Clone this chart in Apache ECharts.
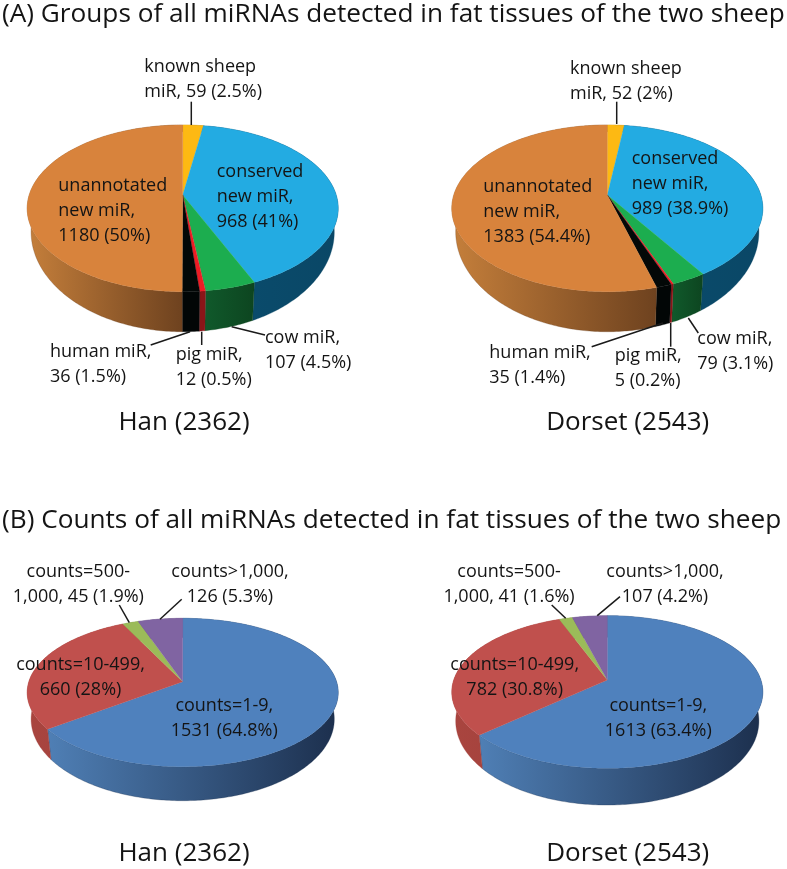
<!DOCTYPE html>
<html>
<head>
<meta charset="utf-8">
<style>html,body{margin:0;padding:0;background:#fff}#c{width:787px;height:869px}</style>
<script src="https://cdn.jsdelivr.net/npm/echarts@6/dist/echarts.min.js"></script>
</head>
<body>
<div id="c"></div>
<script>
// ---- data ----
const groupNames = ['known sheep\nmiR', 'conserved\nnew miR', 'cow miR', 'pig miR', 'human miR', 'unannotated\nnew miR'];
const groupSeps = [', ', ',\n', ',\n', ',\n', ',\n', ',\n'];
const hanGroups = [59, 968, 107, 12, 36, 1180];
const hanGroupPct = ['2.5%', '41%', '4.5%', '0.5%', '1.5%', '50%'];
const dorsetGroups = [52, 989, 79, 5, 35, 1383];
const dorsetGroupPct = ['2%', '38.9%', '3.1%', '0.2%', '1.4%', '54.4%'];

const countNames = ['counts=1-9', 'counts=10-499', 'counts=500-\n1,000', 'counts>1,000'];
const countSeps = [',\n', ',\n', ', ', ',\n'];
const hanCounts = [1531, 660, 45, 126];
const hanCountPct = ['64.8%', '28%', '1.9%', '5.3%'];
const dorsetCounts = [1613, 782, 41, 107];
const dorsetCountPct = ['63.4%', '30.8%', '1.6%', '4.2%'];

const headingA = '(A) Groups of all miRNAs detected in fat tissues of the two sheep';
const headingB = '(B) Counts of all miRNAs detected in fat tissues of the two sheep';
const captions = ['Han (2362)', 'Dorset (2543)'];

// ---- styles ----
const FONT = '"Open Sans", "Noto Sans", sans-serif';
const INK = '#141414';
const LABEL_SIZE = 18, LINE_H = 25;
const groupTop = ['#FDB913', '#23ABE2', '#1CAD4F', '#ED1C24', '#030807', '#D8833C'];
const groupSide = [
  ['#A87A0C', '#A87A0C'], ['#0A4D6E', '#0A4766'], ['#10592B', '#0D4520'],
  ['#8A1518', '#8A1518'], ['#020606', '#020606'], ['#C57F3B', '#6E421F']
];
const countTop = ['#4F81BD', '#C0504D', '#9BBB59', '#8064A2'];
const countSide = [['#4F7FB5', '#1C2F4D'], ['#A9453F', '#A03F3C'], ['#7A9446', '#7A9446'], ['#64507F', '#64507F']];

// ---- layout: apex, distance to back/front rim, half width, lower rim ----
const geoHanA = {cx: 182.7, cy: 195, back: 70, front: 96.7, rx: 155.5, lowerY: 215.7, shrink: 0.975, stretch: 1.2};
const geoDorA = {cx: 607.3, cy: 195, back: 70, front: 96.7, rx: 155.5, lowerY: 215.7, shrink: 0.975, stretch: 1.2};
const geoHanB = {cx: 182.7, cy: 681.7, back: 63.4, front: 85, rx: 155.5, lowerY: 707.2, shrink: 0.975, stretch: 1.1};
const geoDorB = {cx: 607.3, cy: 680, back: 64.3, front: 88.3, rx: 155.5, lowerY: 707.9, shrink: 0.975, stretch: 1.1};

// label anchor [x, y, align] by slice
const txtHanA = [[144.3, 79, 'left'], [216.7, 196.7, 'left'], [265, 350, 'left'], [175.7, 367, 'left'], [50, 364, 'left'], [58.3, 211, 'left']];
const txtDorA = [[570, 81.3, 'left'], [631.7, 184.3, 'left'], [697.3, 351.7, 'left'], [614.7, 368.7, 'left'], [489.3, 365.7, 'left'], [483.3, 212.3, 'left']];
const txtHanB = [[224.3, 718.3, 'center'], [80.5, 677.3, 'center'], [78.3, 584.5, 'center'], [230, 584.5, 'center']];
const txtDorB = [[658.3, 718.3, 'center'], [514.7, 677.3, 'center'], [509, 584.5, 'center'], [665, 584.5, 'center']];

// leader lines by slice
const lineHanA = [[191.3, 101.7, 191.3, 125], null, [265, 335, 231.7, 326.7], [201.7, 345, 201.7, 331.7], [150.7, 345, 190, 331.7], null];
const lineDorA = [[616.7, 101.7, 616.7, 124], null, [698.3, 333, 688.3, 318], [670.7, 346.7, 670.7, 323], [591.7, 346.7, 663, 323], null];
const lineHanB = [null, null, [119.3, 605, 129.3, 622.7], [181.7, 599.3, 160, 619.3]];
const lineDorB = [null, null, [551.7, 605, 565.7, 618.3], [620, 596.7, 597.3, 615.7]];

function makeProjector(g) {
  const ratio = g.front / g.back;
  const d = (ratio + 1) / (ratio - 1);
  const gy = g.back * (d + 1);
  const fx = g.rx * Math.sqrt(d * d - 1);
  return {
    top(t) {
      const X = Math.sin(t), Y = -Math.cos(t);
      return [g.cx + fx * X / (d - Y), g.cy + gy * Y / (d - Y)];
    },
    low(t) {
      const X = Math.sin(t), Y = -Math.cos(t);
      return [g.cx + g.shrink * fx * X / (d - Y), g.lowerY + g.stretch * gy * Y / (d - Y)];
    }
  };
}

function pieSeries(values, names, seps, pct, tops, sides, geo, txt, lines) {
  const total = values.reduce((a, b) => a + b, 0);
  const proj = makeProjector(geo);
  const starts = [];
  let acc = 0;
  values.forEach(v => { starts.push(acc); acc += v; });
  return {
    type: 'custom',
    coordinateSystem: 'none',
    silent: true,
    animation: false,
    data: values,
    renderItem(params) {
      const i = params.dataIndex;
      const a0 = starts[i] / total * 2 * Math.PI;
      const a1 = (starts[i] + values[i]) / total * 2 * Math.PI;
      const n = Math.max(2, Math.ceil((a1 - a0) / 0.015));
      const topArc = [], lowArc = [];
      for (let k = 0; k <= n; k++) {
        const t = a0 + (a1 - a0) * k / n;
        topArc.push(proj.top(t));
        lowArc.push(proj.low(t));
      }
      const children = [];
      const xMin = Math.min(...topArc.map(p => p[0]));
      const xMax = Math.max(...topArc.map(p => p[0]));
      children.push({
        type: 'polygon', z2: 1,
        shape: {points: topArc.concat(lowArc.slice().reverse())},
        style: {
          fill: new echarts.graphic.LinearGradient(xMin, 0, xMax + 0.01, 0,
            [{offset: 0, color: sides[i][0]}, {offset: 1, color: sides[i][1]}], true),
          stroke: sides[i][1], lineWidth: 0.3
        }
      });
      children.push({
        type: 'polygon', z2: 2,
        shape: {points: [[geo.cx, geo.cy]].concat(topArc)},
        style: {fill: tops[i], stroke: tops[i], lineWidth: 0.3}
      });
      if (lines[i]) {
        const l = lines[i];
        children.push({
          type: 'line', z2: 3,
          shape: {x1: l[0], y1: l[1], x2: l[2], y2: l[3]},
          style: {stroke: '#1a1a1a', lineWidth: 1.5}
        });
      }
      const a = txt[i];
      children.push({
        type: 'text', z2: 4, x: a[0], y: a[1],
        style: {
          text: names[i] + seps[i] + values[i] + ' (' + pct[i] + ')',
          fill: INK, fontFamily: FONT, fontSize: LABEL_SIZE, lineHeight: LINE_H,
          align: a[2], verticalAlign: 'middle'
        }
      });
      return {type: 'group', children};
    }
  };
}

function heading(text, left, top, size, align) {
  return {
    text, left, top, textAlign: align, textVerticalAlign: 'middle', padding: 0,
    textStyle: {fontFamily: FONT, fontWeight: 'normal', fontSize: size, color: INK}
  };
}

const chart = echarts.init(document.getElementById('c'), null, {renderer: 'canvas'});
chart.setOption({
  animation: false,
  backgroundColor: '#ffffff',
  title: [
    heading(headingA, 2, 15, 26.2, 'left'),
    heading(headingB, 2, 521, 26.2, 'left'),
    heading(captions[0], 184, 423, 26, 'center'),
    heading(captions[1], 627.7, 423, 26, 'center'),
    heading(captions[0], 184, 854, 26, 'center'),
    heading(captions[1], 627.7, 854, 26, 'center')
  ],
  series: [
    pieSeries(hanGroups, groupNames, groupSeps, hanGroupPct, groupTop, groupSide, geoHanA, txtHanA, lineHanA),
    pieSeries(dorsetGroups, groupNames, groupSeps, dorsetGroupPct, groupTop, groupSide, geoDorA, txtDorA, lineDorA),
    pieSeries(hanCounts, countNames, countSeps, hanCountPct, countTop, countSide, geoHanB, txtHanB, lineHanB),
    pieSeries(dorsetCounts, countNames, countSeps, dorsetCountPct, countTop, countSide, geoDorB, txtDorB, lineDorB)
  ]
});
</script>
</body>
</html>
